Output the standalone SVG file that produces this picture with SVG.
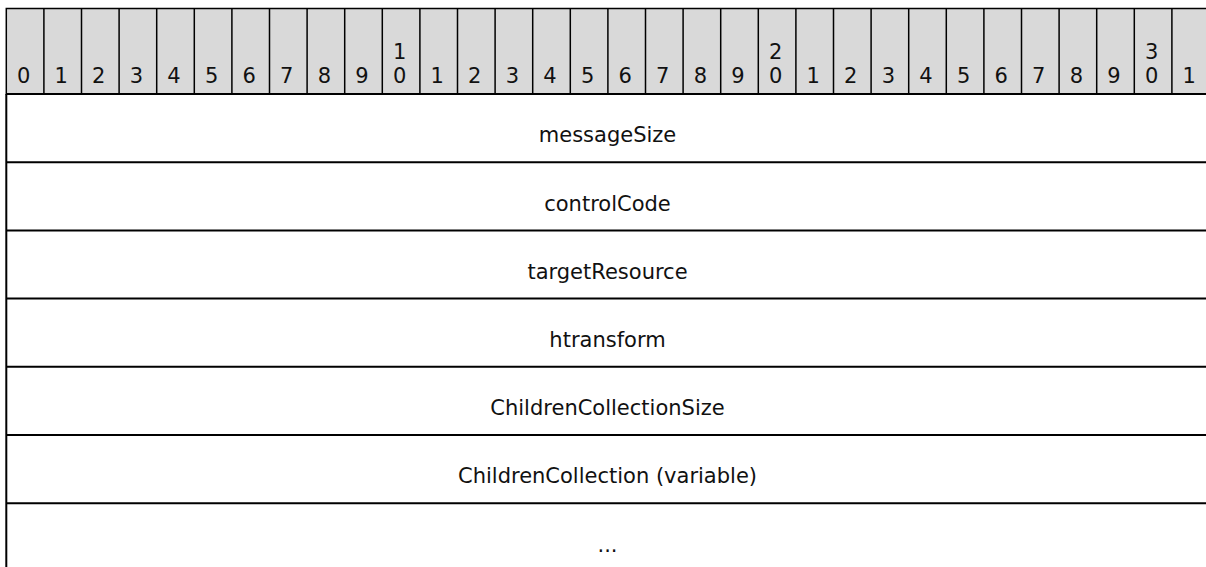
<svg xmlns="http://www.w3.org/2000/svg" width="1206" height="567" viewBox="0 0 1206 567">
<style>
text{font-family:"DejaVu Sans",Verdana,sans-serif;font-size:21px;fill:#111;text-anchor:middle}
.hdr{fill:#d9d9d9;stroke:#000;stroke-width:1.5}
.ln{stroke:#000;stroke-width:2;fill:none}
</style>
<rect width="1206" height="567" fill="#fff"/>
<g id="header">
<rect class="hdr" x="6.3" y="8.5" width="1203.2" height="85.5"/>
<path d="M43.9 8.5V94M81.5 8.5V94M119.1 8.5V94M156.7 8.5V94M194.3 8.5V94M231.9 8.5V94M269.5 8.5V94M307.1 8.5V94M344.7 8.5V94M382.3 8.5V94M419.9 8.5V94M457.5 8.5V94M495.1 8.5V94M532.7 8.5V94M570.3 8.5V94M607.9 8.5V94M645.5 8.5V94M683.1 8.5V94M720.7 8.5V94M758.3 8.5V94M795.9 8.5V94M833.5 8.5V94M871.1 8.5V94M908.7 8.5V94M946.3 8.5V94M983.9 8.5V94M1021.5 8.5V94M1059.1 8.5V94M1096.7 8.5V94M1134.3 8.5V94M1171.9 8.5V94" stroke="#000" stroke-width="1.5" fill="none"/>
<text x="23.6" y="83">0</text>
<text x="61.2" y="83">1</text>
<text x="98.8" y="83">2</text>
<text x="136.4" y="83">3</text>
<text x="174" y="83">4</text>
<text x="211.6" y="83">5</text>
<text x="249.2" y="83">6</text>
<text x="286.8" y="83">7</text>
<text x="324.4" y="83">8</text>
<text x="362" y="83">9</text>
<text x="399.6" y="58.5">1</text><text x="399.6" y="83">0</text>
<text x="437.2" y="83">1</text>
<text x="474.8" y="83">2</text>
<text x="512.4" y="83">3</text>
<text x="550" y="83">4</text>
<text x="587.6" y="83">5</text>
<text x="625.2" y="83">6</text>
<text x="662.8" y="83">7</text>
<text x="700.4" y="83">8</text>
<text x="738" y="83">9</text>
<text x="775.6" y="58.5">2</text><text x="775.6" y="83">0</text>
<text x="813.2" y="83">1</text>
<text x="850.8" y="83">2</text>
<text x="888.4" y="83">3</text>
<text x="926" y="83">4</text>
<text x="963.6" y="83">5</text>
<text x="1001.2" y="83">6</text>
<text x="1038.8" y="83">7</text>
<text x="1076.4" y="83">8</text>
<text x="1114" y="83">9</text>
<text x="1151.6" y="58.5">3</text><text x="1151.6" y="83">0</text>
<text x="1189.2" y="83">1</text>
</g>
<g id="rows">
<path class="ln" d="M6.3 94V567M6.3 94H1210M6.3 162.2H1210M6.3 230.4H1210M6.3 298.6H1210M6.3 366.8H1210M6.3 435H1210M6.3 503.2H1210"/>
</g>
<g id="field-messageSize"><text x="607.5" y="142.3">messageSize</text></g>
<g id="field-controlCode"><text x="607.5" y="210.5">controlCode</text></g>
<g id="field-targetResource"><text x="607.5" y="278.7">targetResource</text></g>
<g id="field-htransform"><text x="607.5" y="346.9">htransform</text></g>
<g id="field-ChildrenCollectionSize"><text x="607.5" y="415.1">ChildrenCollectionSize</text></g>
<g id="field-ChildrenCollection"><text x="607.5" y="483.3">ChildrenCollection (variable)</text></g>
<g id="field-more"><text x="607.5" y="551.5">...</text></g>
</svg>
